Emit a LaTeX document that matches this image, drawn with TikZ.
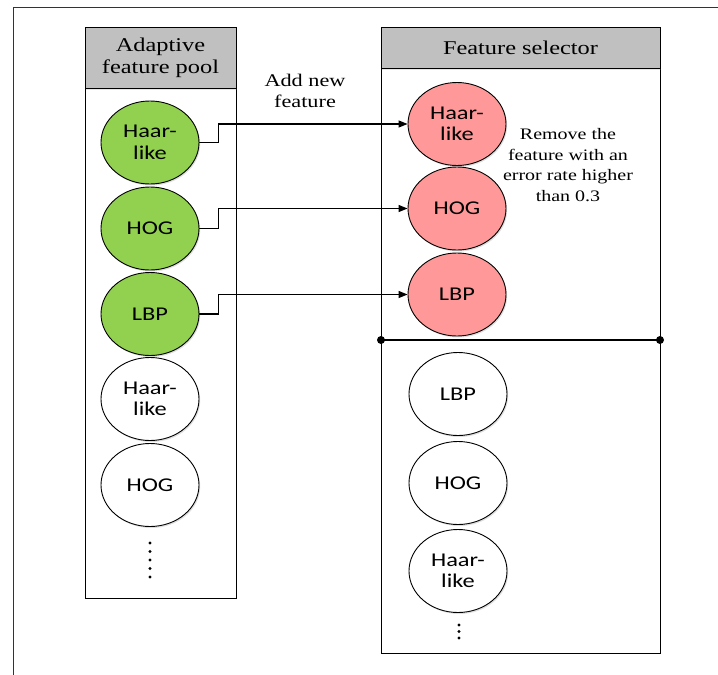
\documentclass[tikz,border=0pt]{standalone}
\usepackage{fontspec}
\setmainfont[FakeStretch=1.25]{Liberation Serif}
\newfontfamily\ellfont[FakeStretch=1.25]{Carlito}
\usetikzlibrary{arrows.meta,shadows,shapes.geometric}
\definecolor{poolgreen}{HTML}{92D050}
\definecolor{selpink}{HTML}{FF9999}
\definecolor{headgray}{HTML}{C0C0C0}
\definecolor{framegray}{HTML}{333333}
\begin{document}
\begin{tikzpicture}[x=1pt,y=-1pt,
  feat/.style={ellipse, draw, line width=0.9pt, minimum width=98pt, minimum height=83pt,
    inner sep=0pt, align=center, font=\ellfont\fontsize{19.5}{21.5}\selectfont,
    drop shadow={shadow xshift=1.2pt, shadow yshift=-1.5pt, opacity=0.25}},
  green/.style={feat, fill=poolgreen},
  pink/.style={feat, fill=selpink},
  plain/.style={feat, fill=white},
  panel/.style={draw, line width=0.9pt},
  header/.style={draw, line width=0.9pt, fill=headgray,
    drop shadow={shadow xshift=1.2pt, shadow yshift=-1.5pt, opacity=0.2}},
  lbl/.style={align=center, font=\fontsize{19.5}{21.7}\selectfont},
  addlbl/.style={align=center, font=\fontsize{17.8}{21.3}\selectfont},
  note/.style={align=center, font=\fontsize{16}{20.7}\selectfont},
  conn/.style={line width=1.2pt, -{Triangle[length=9pt,width=7pt]}},
  dotmark/.style={fill=black}
]
\useasboundingbox (0,0) rectangle (718,675);

% outer frame (top and left edges)
\draw[framegray, line width=1pt] (13,675) -- (13,7.5) -- (718,7.5);

% adaptive feature pool panel
\draw[panel] (85,27) rectangle (236,598);
\draw[header] (85,27) rectangle (236,88);
\node[lbl] (poolhead) at (160.5,57.5) {Adaptive\\feature pool};

% feature selector panel
\draw[panel] (381,27) rectangle (660,653);
\draw[header] (381,27) rectangle (660,68);
\node[lbl] (selhead) at (520.5,48) {Feature selector};

% divider between selected and queued features
\coordinate (dl) at (381,340);
\coordinate (dr) at (660,340);
\draw[line width=1.5pt] (dl) -- (dr);
\fill[dotmark] (dl) circle (4pt);
\fill[dotmark] (dr) circle (4pt);

% pool features
\node[green] (p1) at (150,142.5) {Haar-\\like};
\node[green] (p2) at (150,228.5) {HOG};
\node[green] (p3) at (150,314) {LBP};
\node[plain] (p4) at (150,399) {Haar-\\like};
\node[plain] (p5) at (150,485) {HOG};
\foreach \yy in {543,551.5,560,568.5,577} \fill (150,\yy) circle (1.6pt);

% selected features
\node[pink] (s1) at (457,124) {Haar-\\like};
\node[pink] (s2) at (457,208.5) {HOG};
\node[pink] (s3) at (457,294.5) {LBP};

% queued features
\node[plain] (q1) at (458,394) {LBP};
\node[plain] (q2) at (458,483) {HOG};
\node[plain] (q3) at (458,571) {Haar-\\like};
\foreach \yy in {625,631.5,638} \fill (459,\yy) circle (1.6pt);

% transfer connectors
\draw[conn] (p1.east) -- ++(19,0) |- (s1.west);
\draw[conn] (p2.east) -- ++(19,0) |- (s2.west);
\draw[conn] (p3.east) -- ++(19,0) |- (s3.west);

% annotations
\node[addlbl] (addnote) at (305,91) {Add new\\feature};
\node[note] (remnote) at (568,165) {Remove the\\feature with an\\error rate higher\\than 0.3};
\end{tikzpicture}
\end{document}
